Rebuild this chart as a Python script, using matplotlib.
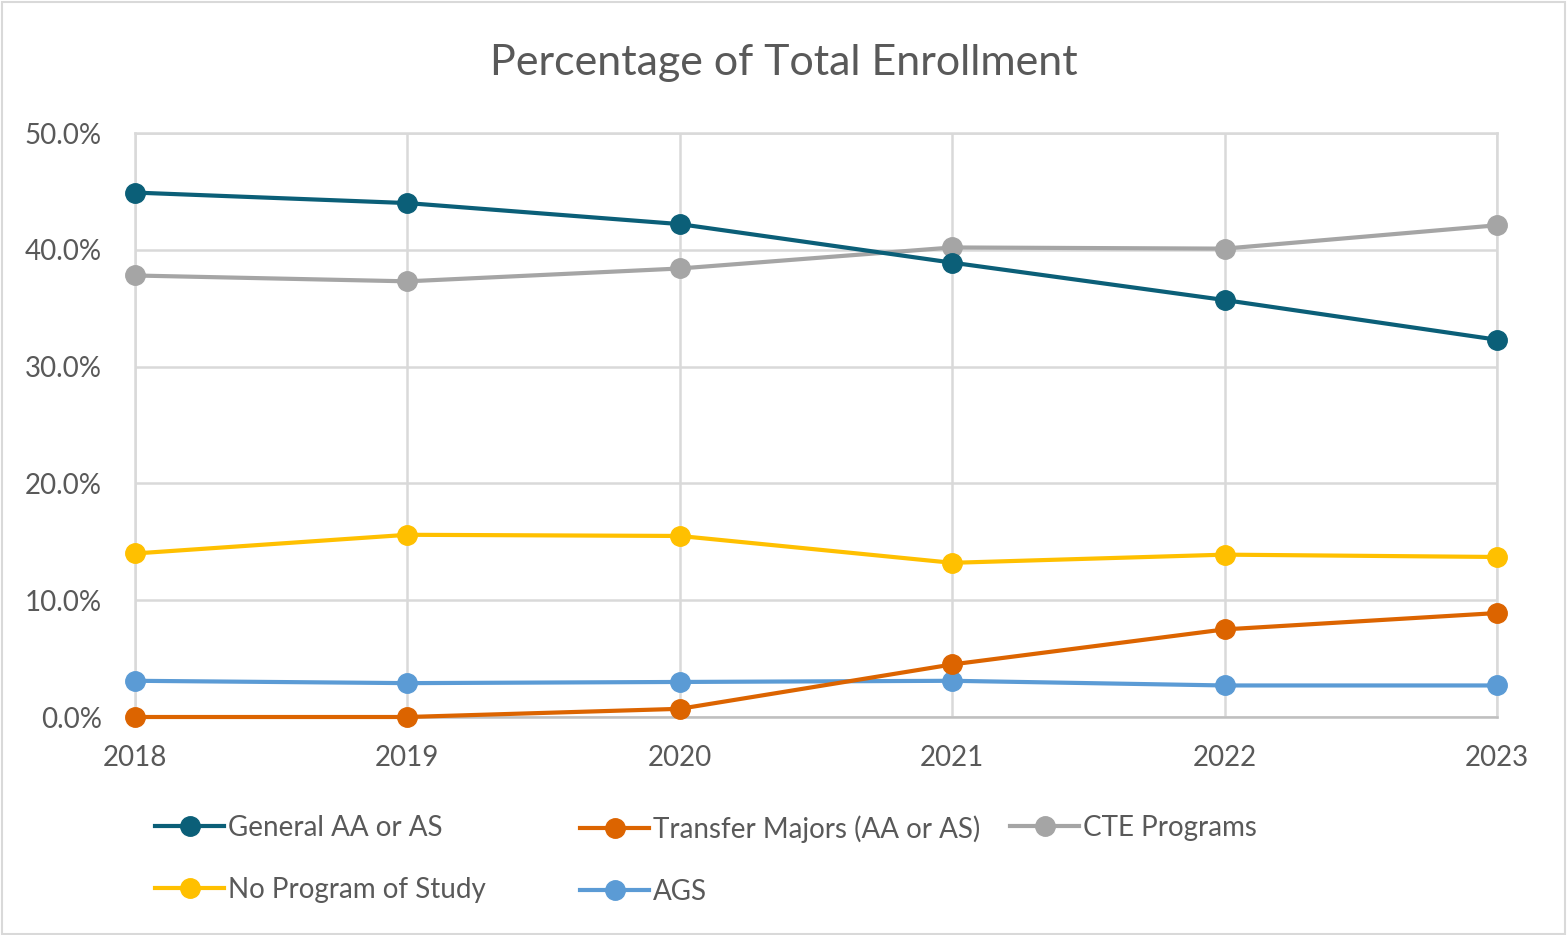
import matplotlib.pyplot as plt
from matplotlib.patches import Rectangle

plt.rcParams['font.family'] = ['Lato', 'DejaVu Sans']

years = [2018, 2019, 2020, 2021, 2022, 2023]
general = [44.9, 44.0, 42.2, 38.9, 35.7, 32.3]
transfer = [0.0, 0.0, 0.7, 4.5, 7.5, 8.9]
cte = [37.8, 37.3, 38.4, 40.2, 40.1, 42.1]
no_program = [14.0, 15.6, 15.5, 13.2, 13.9, 13.7]
ags = [3.1, 2.9, 3.0, 3.1, 2.7, 2.7]

series = [
    ("General AA or AS", general, "#0b5f78"),
    ("Transfer Majors (AA or AS)", transfer, "#dc6400"),
    ("CTE Programs", cte, "#a5a5a5"),
    ("No Program of Study", no_program, "#ffc000"),
    ("AGS", ags, "#5b9bd5"),
]
text_col = "#595959"

fig = plt.figure(figsize=(15.68, 9.35), dpi=100)
ax = fig.add_axes([135 / 1568, 1 - 717 / 935, (1497 - 135) / 1568, (717 - 133) / 935])

# draw in reverse so the first series sits on top
handles = {}
for name, vals, col in reversed(series):
    h, = ax.plot(years, vals, color=col, lw=3, marker='o', ms=14,
                 clip_on=False, zorder=3, label=name)
    handles[name] = h

ax.set_xlim(2018, 2023)
ax.set_ylim(0, 50)
ax.set_yticks([0, 10, 20, 30, 40, 50])
ax.set_yticklabels([f"{v:.1f}%" for v in [0, 10, 20, 30, 40, 50]])
ax.set_xticks(years)
ax.grid(True, color="#d9d9d9", lw=1.8)
ax.set_axisbelow(True)
for s in ax.spines.values():
    s.set_color("#d9d9d9")
    s.set_linewidth(1.8)
ax.spines['bottom'].set_color("#bfbfbf")
ax.tick_params(length=0, labelsize=20, colors=text_col)
ax.tick_params(axis='x', pad=20)
ax.tick_params(axis='y', pad=24)

fig.text(0.5, 1 - 63 / 935, "Percentage of Total Enrollment", ha='center', va='center',
         fontsize=31, color=text_col)

# legend, laid out in three columns like the original
cols = [
    (155, ["General AA or AS", "No Program of Study"]),
    (580, ["Transfer Majors (AA or AS)", "AGS"]),
    (1010, ["CTE Programs"]),
]
for x0, names in cols:
    fig.legend([handles[n] for n in names], names, loc='upper left',
               bbox_to_anchor=(x0 / 1568, 1 - 815 / 935), frameon=False,
               fontsize=20, labelcolor=text_col, handlelength=2.5,
               handletextpad=0.12, borderpad=0, borderaxespad=0,
               labelspacing=1.3)

fig.patches.append(Rectangle((0.001, 0.001), 0.997, 0.997, transform=fig.transFigure,
                             fill=False, edgecolor="#d9d9d9", lw=1.5))

fig.savefig("out.png", dpi=100)
